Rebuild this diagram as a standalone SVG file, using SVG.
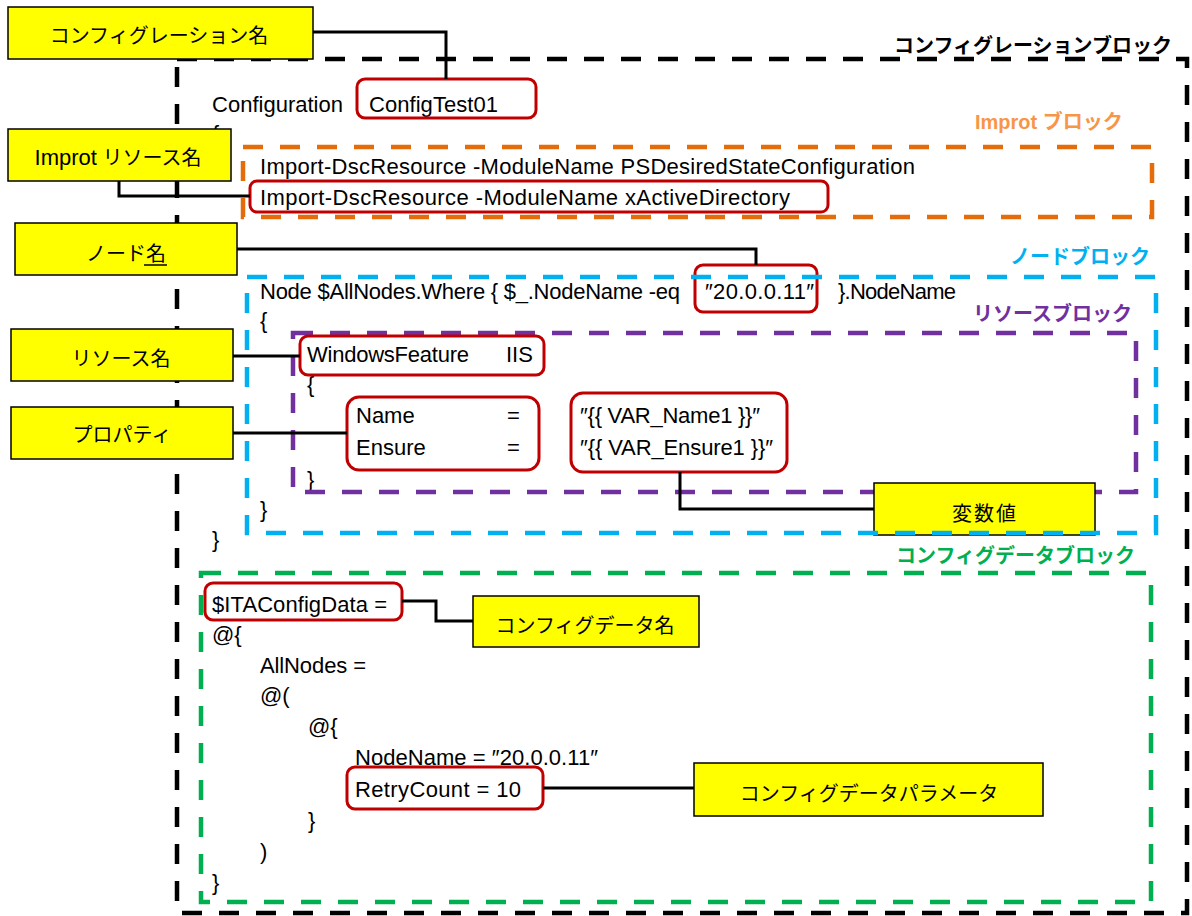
<svg xmlns="http://www.w3.org/2000/svg" width="1192" height="916" viewBox="0 0 1192 916">
<style>
.code{font-family:"Liberation Sans","Noto Sans CJK JP",sans-serif;font-size:22px;fill:#000}
.lbl{font-family:"Liberation Sans","Noto Sans CJK JP",sans-serif;font-size:20px;fill:#000;text-anchor:middle}
.blk{font-family:"Liberation Sans","Noto Sans CJK JP",sans-serif;font-size:20px;font-weight:bold}
.yel{fill:#FFFF00;stroke:#000;stroke-width:1.5}
.red{fill:none;stroke:#C00000;stroke-width:3}
.dash{fill:none;stroke-width:4.5;stroke-dasharray:20 17}
.conn{fill:none;stroke:#000;stroke-width:3}
</style>
<rect width="1192" height="916" fill="#fff"/>

<g id="config-block">
<rect class="dash" x="177" y="59" width="1010" height="854" stroke="#000" stroke-width="5"/>
</g>

<g id="code">
<text class="code" x="212" y="112" textLength="131">Configuration</text>
<text class="code" x="369" y="112" textLength="129">ConfigTest01</text>
<text class="code" x="212" y="141">{</text>
<text class="code" x="260" y="174" textLength="655">Import-DscResource -ModuleName PSDesiredStateConfiguration</text>
<text class="code" x="260" y="205" textLength="530">Import-DscResource -ModuleName xActiveDirectory</text>
<text class="code" x="260" y="299" textLength="420">Node $AllNodes.Where { $_.NodeName -eq</text>
<text class="code" x="705" y="299" textLength="109">″20.0.0.11″</text>
<text class="code" x="838" y="299" textLength="118">}.NodeName</text>
<text class="code" x="260" y="328">{</text>
<text class="code" x="307" y="362" textLength="162">WindowsFeature</text>
<text class="code" x="506" y="362">IIS</text>
<text class="code" x="307" y="392">{</text>
<text class="code" x="356" y="423">Name</text>
<text class="code" x="507" y="423">=</text>
<text class="code" x="356" y="455">Ensure</text>
<text class="code" x="507" y="455">=</text>
<text class="code" x="580" y="423" textLength="180">″{{ VAR_Name1 }}″</text>
<text class="code" x="580" y="455" textLength="193">″{{ VAR_Ensure1 }}″</text>
<text class="code" x="307" y="487">}</text>
<text class="code" x="260" y="517">}</text>
<text class="code" x="212" y="547">}</text>
<text class="code" x="212" y="612" textLength="175">$ITAConfigData =</text>
<text class="code" x="212" y="642">@{</text>
<text class="code" x="260" y="673" textLength="106">AllNodes =</text>
<text class="code" x="260" y="703">@(</text>
<text class="code" x="308" y="734">@{</text>
<text class="code" x="355" y="765" textLength="243">NodeName = ″20.0.0.11″</text>
<text class="code" x="355" y="797" textLength="166">RetryCount = 10</text>
<text class="code" x="308" y="828">}</text>
<text class="code" x="260" y="859">)</text>
<text class="code" x="212" y="890">}</text>
</g>

<g id="import-block">
<rect class="dash" x="243" y="147" width="909" height="70" stroke="#E46C0A"/>
</g>
<g id="resource-block">
<rect class="dash" x="293" y="333" width="843" height="159" stroke="#7030A0"/>
</g>
<g id="configdata-block">
<rect class="dash" x="201" y="573" width="950" height="329" stroke="#00B050"/>
</g>

<g id="highlights">
<rect id="hl-configname" class="red" x="357" y="79" width="179" height="39" rx="8"/>
<rect id="hl-import" class="red" x="250" y="181" width="578" height="31" rx="7"/>
<rect id="hl-nodename" class="red" x="695" y="265" width="122" height="47" rx="8"/>
<rect id="hl-resource" class="red" x="300" y="336" width="244" height="39" rx="8"/>
<rect id="hl-props" class="red" x="347" y="397" width="192" height="73" rx="12"/>
<rect id="hl-values" class="red" x="571" y="393" width="216" height="79" rx="12"/>
<rect id="hl-configdata" class="red" x="205" y="583" width="197" height="37" rx="8"/>
<rect id="hl-retry" class="red" x="347" y="767" width="196" height="42" rx="8"/>
</g>

<g id="connectors">
<path class="conn" d="M313,32 H446 V79"/>
<path class="conn" d="M119,181 V196 H250"/>
<path class="conn" d="M237,249 H756 V265"/>
<path class="conn" d="M233,356 H300"/>
<path class="conn" d="M233,433 H347"/>
<path class="conn" d="M680,472 V509 H874"/>
<path class="conn" d="M402,601 H436 V621 H473"/>
<path class="conn" d="M543,788 H695"/>
</g>

<g id="n-configname">
<rect class="yel" x="8" y="7" width="305" height="52"/>
<text class="lbl" x="159" y="43">コンフィグレーション名</text>
</g>
<g id="n-importname">
<rect class="yel" x="8" y="129" width="223" height="52"/>
<text class="lbl" x="118" y="165"><tspan font-size="22">Improt</tspan> リソース名</text>
</g>
<g id="n-nodename">
<rect class="yel" x="15" y="223" width="222" height="52"/>
<text class="lbl" x="126" y="261">ノード名</text>
<line x1="144" y1="265" x2="167" y2="265" stroke="#000" stroke-width="1.5"/>
</g>
<g id="n-resourcename">
<rect class="yel" x="11" y="329" width="222" height="52"/>
<text class="lbl" x="121" y="366">リソース名</text>
</g>
<g id="n-property">
<rect class="yel" x="11" y="407" width="222" height="52"/>
<text class="lbl" x="122" y="442">プロパティ</text>
</g>
<g id="n-value">
<rect class="yel" x="874" y="483" width="221" height="52"/>
<text class="lbl" x="985" y="521" font-size="22" letter-spacing="2">変数値</text>
</g>
<g id="n-configdataname">
<rect class="yel" x="473" y="596" width="226" height="51"/>
<text class="lbl" x="585" y="633">コンフィグデータ名</text>
</g>
<g id="n-configdataparam">
<rect class="yel" x="694" y="763" width="349" height="53"/>
<text class="lbl" x="869" y="801">コンフィグデータパラメータ</text>
</g>

<g id="node-block">
<rect class="dash" x="247" y="277" width="909" height="256" stroke="#00B0F0"/>
</g>

<g id="block-labels">
<text class="blk" x="894" y="53" fill="#000">コンフィグレーションブロック</text>
<text class="blk" x="975" y="129" fill="#F79646">Improt ブロック</text>
<text class="blk" x="1010" y="264" fill="#00B0F0">ノードブロック</text>
<text class="blk" x="973" y="321" fill="#7030A0">リソースブロック</text>
<text class="blk" x="896" y="563" fill="#00B050">コンフィグデータブロック</text>
</g>
</svg>
